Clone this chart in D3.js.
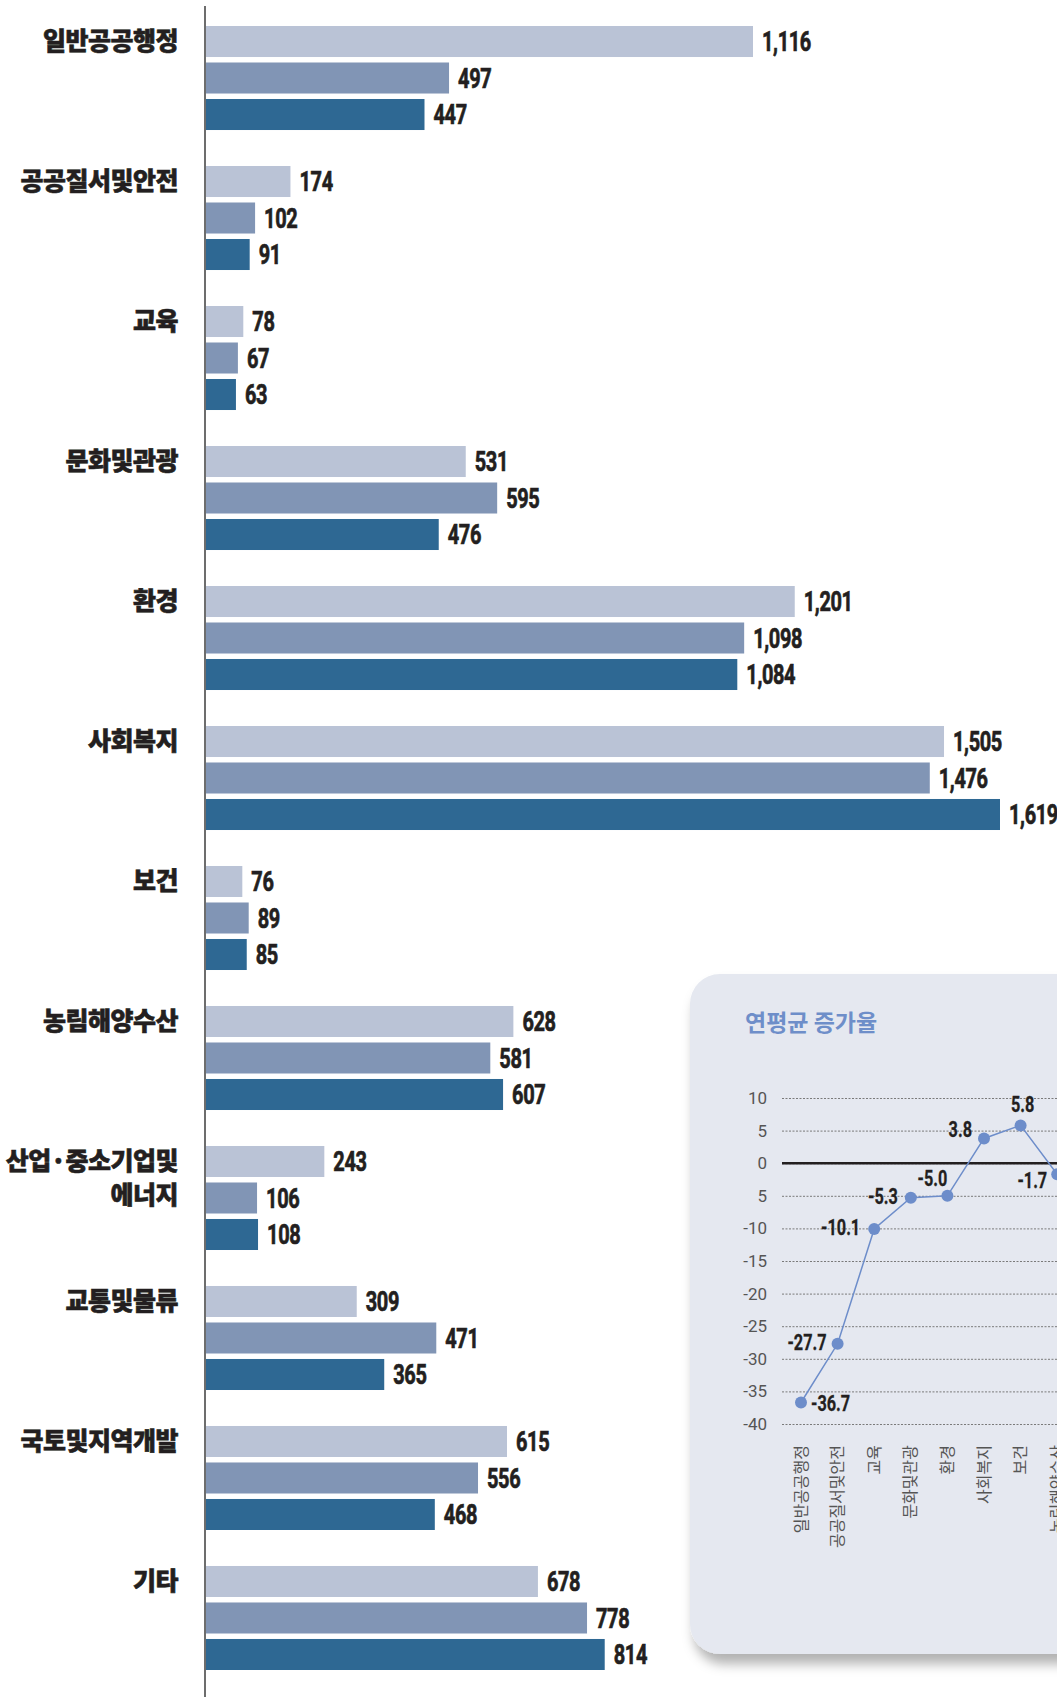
<!DOCTYPE html>
<html>
<head>
<meta charset="utf-8">
<script src="https://cdn.jsdelivr.net/npm/d3@7"></script>
<style>
  body { margin: 0; background: #fff; }
  svg { display: block; }
</style>
</head>
<body>
<div id="chart"></div>
<script>
// bar data
const categories = ["일반공공행정", "공공질서및안전", "교육", "문화및관광", "환경", "사회복지",
  "보건", "농림해양수산", "산업·중소기업및 에너지", "교통및물류", "국토및지역개발", "기타"];
const series1 = [1116, 174, 78, 531, 1201, 1505, 76, 628, 243, 309, 615, 678];
const series2 = [497, 102, 67, 595, 1098, 1476, 89, 581, 106, 471, 556, 778];
const series3 = [447, 91, 63, 476, 1084, 1619, 85, 607, 108, 365, 468, 814];

// inset: 연평균 증가율 (only the part visible in the picture)
const growthCategories = ["일반공공행정", "공공질서및안전", "교육", "문화및관광", "환경", "사회복지",
  "보건", "농림해양수산", "산업·중소기업및에너지", "교통및물류", "국토및지역개발", "기타"];
const growthValues = [-36.7, -27.7, -10.1, -5.3, -5.0, 3.8, 5.8, -1.7];
const growthTicks = [10, 5, 0, -5, -10, -15, -20, -25, -30, -35, -40];
const growthTickLabels = ["10", "5", "0", "5", "-10", "-15", "-20", "-25", "-30", "-35", "-40"];

// label placement for the inset points [dx, dy, anchor]
const growthLabelPlace = [[10, 9, "start"], [-11, 6, "end"], [-14, 6, "end"], [-13, 6, "end"],
  [0, -10, "end"], [-12, -1, "end"], [2, -13, "middle"], [-10, 14, "end"]];

const W = 1057, H = 1697;
const colors = ["#bac3d6", "#8195b5", "#2e6893"];
const numFont = "Roboto, 'Liberation Sans', sans-serif";
const korFont = "'Noto Sans CJK KR', sans-serif";
const squeeze = 0.74; // condensed look for number labels

const svg = d3.select("#chart").append("svg")
  .attr("width", W).attr("height", H);

const rows = categories.map((c, i) => ({ cat: c, vals: [series1[i], series2[i], series3[i]] }));

const x = d3.scaleLinear()
  .domain([0, d3.max(series3.concat(series1, series2))])
  .range([205, 1000]);

const y = d3.scaleBand()
  .domain(categories)
  .range([26, 1670])
  .paddingInner(0.257)
  .paddingOuter(0);

const ySub = d3.scaleBand()
  .domain([0, 1, 2])
  .range([0, y.bandwidth()])
  .padding(0.15)
  .paddingOuter(0);

const group = svg.append("g").selectAll("g")
  .data(rows)
  .join("g")
  .attr("transform", d => `translate(0,${y(d.cat)})`);

group.selectAll("rect")
  .data(d => d.vals)
  .join("rect")
  .attr("x", x(0))
  .attr("y", (d, i) => ySub(i))
  .attr("width", d => x(d) - x(0))
  .attr("height", ySub.bandwidth())
  .attr("fill", (d, i) => colors[i]);

group.selectAll("text.val")
  .data(d => d.vals)
  .join("text")
  .attr("class", "val")
  .attr("transform", (d, i) => `translate(${x(d) + 9},${ySub(i) + ySub.bandwidth() / 2}) scale(${squeeze},1)`)
  .attr("dy", "0.36em")
  .style("font-family", numFont)
  .style("font-weight", "bold")
  .style("font-size", "27px")
  .style("letter-spacing", "-0.5px")
  .attr("fill", "#231f20")
  .attr("stroke", "#231f20")
  .attr("stroke-width", 0.7)
  .text(d => d3.format(",")(d));

// category labels
group.append("text")
  .attr("x", 178)
  .attr("text-anchor", "end")
  .style("font-family", korFont)
  .style("font-weight", 900)
  .style("font-size", "25px")
  .style("letter-spacing", "-0.5px")
  .attr("fill", "#231f20")
  .attr("stroke", "#231f20")
  .attr("stroke-width", 0.6)
  .selectAll("tspan")
  .data(d => d.cat.split(" "))
  .join("tspan")
  .attr("x", 178)
  .attr("y", (d, i) => ySub(0) + 24 + i * 34)
  .text(d => d);

// vertical axis line
svg.append("line")
  .attr("x1", 205).attr("x2", 205)
  .attr("y1", 6).attr("y2", H)
  .attr("stroke", "#6d6d6d")
  .attr("stroke-width", 2);

// ---- inset panel ----
const defs = svg.append("defs");
const f = defs.append("filter").attr("id", "shadow")
  .attr("x", "-10%").attr("y", "-10%").attr("width", "130%").attr("height", "130%");
f.append("feDropShadow")
  .attr("dx", 4).attr("dy", 10)
  .attr("stdDeviation", 6)
  .attr("flood-color", "#000")
  .attr("flood-opacity", 0.3);

svg.append("rect")
  .attr("x", 690).attr("y", 974)
  .attr("width", 520).attr("height", 680)
  .attr("rx", 30)
  .attr("fill", "#e5e8f0")
  .attr("filter", "url(#shadow)");

svg.append("text")
  .attr("x", 745).attr("y", 1031)
  .style("font-family", korFont)
  .style("font-weight", "bold")
  .style("font-size", "23px")
  .attr("fill", "#6e8ec9")
  .text("연평균 증가율");

const gy = d3.scaleLinear().domain([-40, 10]).range([1424, 1098]);
const gx = d3.scaleBand()
  .domain(growthCategories)
  .range([782.7, 782.7 + 36.6 * growthCategories.length]);

const inset = svg.append("g");

inset.append("g")
  .call(d3.axisLeft(gy)
    .tickValues(growthTicks)
    .tickSize(-600)
    .tickPadding(15)
    .tickFormat((d, i) => growthTickLabels[i]))
  .attr("transform", "translate(782,0)")
  .call(g => g.select(".domain").remove())
  .call(g => g.selectAll(".tick line")
    .attr("stroke", "#7a7a7a")
    .attr("stroke-dasharray", "2,1.5")
    .attr("stroke-width", 1))
  .call(g => g.selectAll(".tick text")
    .attr("fill", "#555")
    .style("font-family", "Roboto, sans-serif")
    .style("font-size", "17px"));

inset.append("line")
  .attr("x1", 782).attr("x2", 1400)
  .attr("y1", gy(0)).attr("y2", gy(0))
  .attr("stroke", "#231f20")
  .attr("stroke-width", 2.5);

// rotated category labels
inset.append("g").selectAll("text")
  .data(growthCategories)
  .join("text")
  .attr("transform", d => `translate(${gx(d) + gx.bandwidth() / 2},1445) rotate(-90)`)
  .attr("text-anchor", "end")
  .attr("dy", "0.35em")
  .style("font-family", korFont)
  .style("font-size", "16px")
  .attr("fill", "#555")
  .text(d => d);

const pts = growthValues.map((v, i) => ({ cat: growthCategories[i], v, place: growthLabelPlace[i] }));
const cx = d => gx(d.cat) + gx.bandwidth() / 2;

inset.append("path")
  .datum(pts)
  .attr("fill", "none")
  .attr("stroke", "#6d8dca")
  .attr("stroke-width", 1.5)
  .attr("d", d3.line().x(cx).y(d => gy(d.v)));

inset.append("g").selectAll("circle")
  .data(pts)
  .join("circle")
  .attr("cx", cx)
  .attr("cy", d => gy(d.v))
  .attr("r", 6)
  .attr("fill", "#6d8dca");

inset.append("g").selectAll("text")
  .data(pts)
  .join("text")
  .attr("transform", d => `translate(${cx(d) + d.place[0]},${gy(d.v) + d.place[1]}) scale(${squeeze},1)`)
  .attr("text-anchor", d => d.place[2])
  .style("font-family", numFont)
  .style("font-weight", "bold")
  .style("font-size", "22px")
  .attr("fill", "#231f20")
  .attr("stroke", "#231f20")
  .attr("stroke-width", 0.3)
  .text(d => d3.format(".1f")(d.v).replace("−", "-"));
</script>
</body>
</html>
